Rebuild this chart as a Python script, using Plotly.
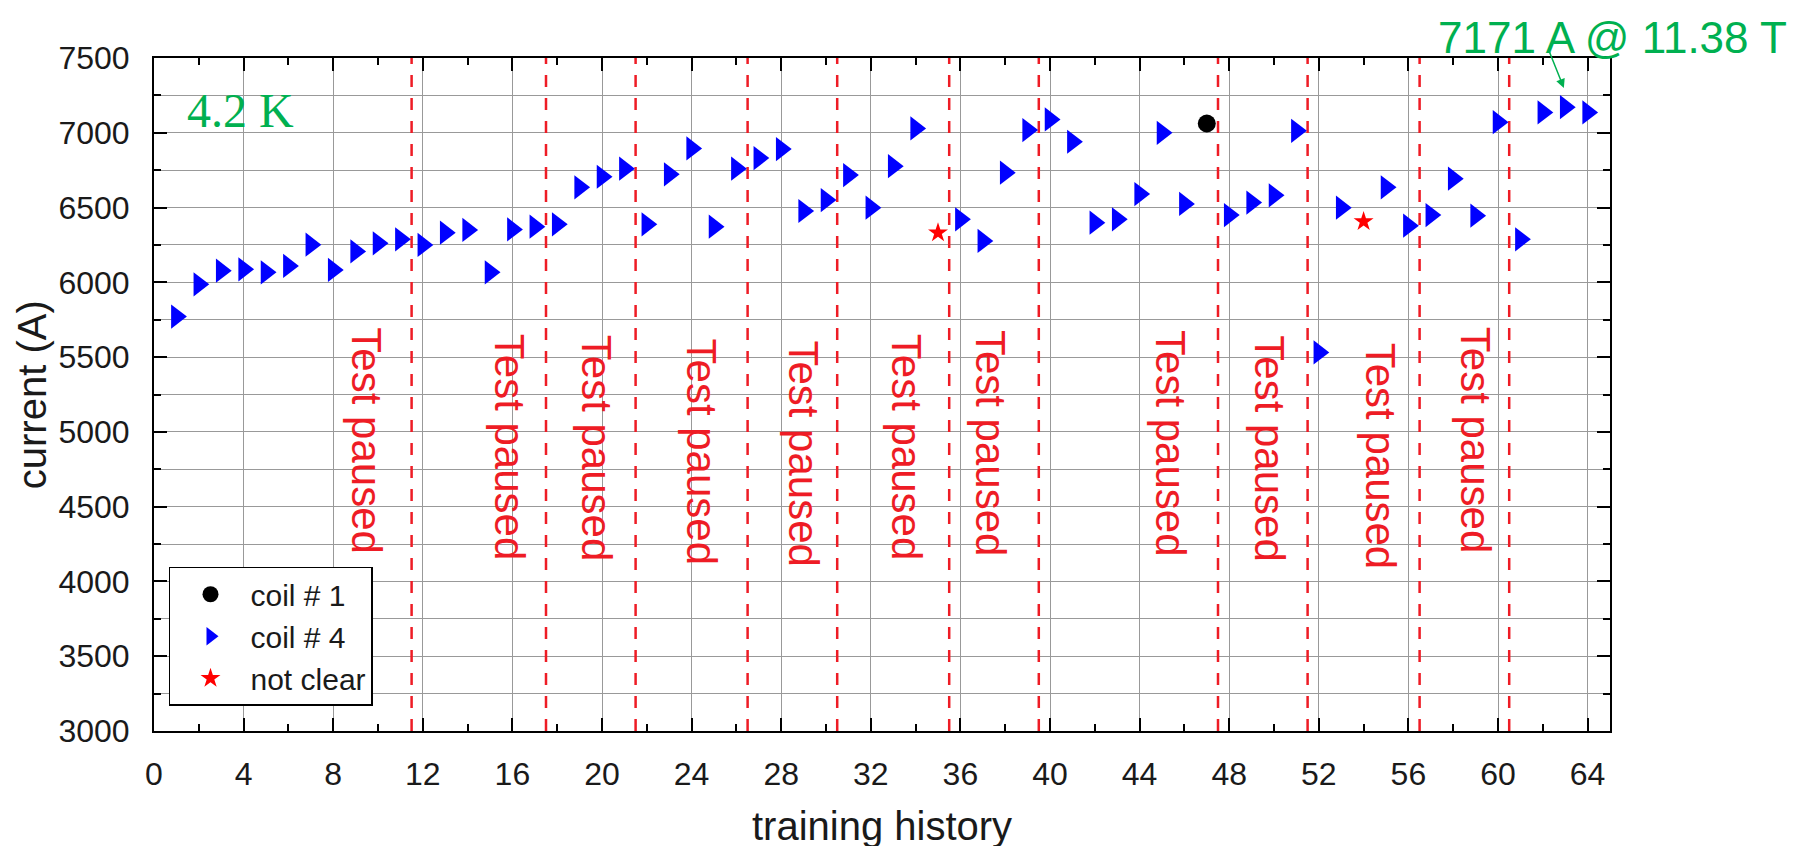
import plotly.graph_objects as go

# ---- data ----
coil4_x = [1, 2, 3, 4, 5, 6, 7, 8, 9, 10, 11, 12, 13, 14, 15, 16, 17, 18, 19, 20,
           21, 22, 23, 24, 25, 26, 27, 28, 29, 30, 31, 32, 33, 34, 36, 37, 38, 39, 40,
           41, 42, 43, 44, 45, 46, 48, 49, 50, 51, 52, 53, 55, 56, 57, 58, 59, 60,
           61, 62, 63, 64]
coil4_y = [5771, 5987, 6078, 6087, 6067, 6110, 6252, 6083, 6207, 6261, 6288, 6250,
           6332, 6350, 6067, 6354, 6372, 6388, 6635, 6706, 6760, 6388, 6722, 6895,
           6372, 6760, 6831, 6891, 6477, 6550, 6717, 6499, 6777, 7029, 6421, 6277,
           6733, 7018, 7089, 6940, 6399, 6421, 6590, 7000, 6524, 6450, 6533, 6582,
           7013, 5531, 6499, 6635, 6379, 6450, 6693, 6446, 7071, 6288, 7136, 7171,
           7136]
coil1_x = [47]
coil1_y = [7062]
unclear_x = [35, 54]
unclear_y = [6332, 6406]

pause_x = [11.5, 17.5, 21.5, 26.5, 30.5, 35.5, 39.5, 47.5, 51.5, 56.5, 60.5]
pause_label_x = [9.5, 15.85, 19.75, 24.45, 29.0, 33.6, 37.35, 45.4, 49.8, 54.75, 59.0]
pause_label_y = [4938, 4900, 4891, 4864, 4852, 4896, 4922, 4919, 4887, 4838, 4943]
pause_text = "Test paused"

x_ticks = list(range(0, 65, 4))
y_ticks = list(range(3000, 7501, 500))

peak_x, peak_y = 63, 7171
peak_label = "7171 A @ 11.38 T"
temp_label = "4.2 K"

# ---- styling ----
FONT = "Liberation Sans, Arial, sans-serif"
RED = "#ee1c25"
GREEN = "#00b050"
GRID = "#999999"

fig = go.Figure()
fig.add_trace(go.Scatter(x=coil1_x, y=coil1_y, mode="markers", name="coil # 1",
                         marker=dict(symbol="circle", size=18, color="black")))
fig.add_trace(go.Scatter(x=coil4_x, y=coil4_y, mode="markers", name="coil # 4",
                         marker=dict(symbol="triangle-right", size=21, color="#0000ff")))
fig.add_trace(go.Scatter(x=unclear_x, y=unclear_y, mode="markers", name="not clear",
                         marker=dict(symbol="star", size=15, color="#ff0000")))

shapes = []
for px in pause_x:
    shapes.append(dict(type="line", xref="x", yref="y", x0=px, x1=px, y0=3000, y1=7500,
                       line=dict(color=RED, width=2.5, dash="12px,11px"), layer="between"))

annotations = []
for lx, ly in zip(pause_label_x, pause_label_y):
    annotations.append(dict(x=lx, y=ly, xref="x", yref="y", text=pause_text,
                            textangle=90, showarrow=False,
                            font=dict(family=FONT, size=42, color=RED),
                            xanchor="center", yanchor="middle"))

annotations.append(dict(x=3.85, y=7150, xref="x", yref="y", text=temp_label,
                        showarrow=False, xanchor="center", yanchor="middle",
                        font=dict(family="Liberation Serif, Times New Roman, serif",
                                  size=48, color=GREEN)))
annotations.append(dict(x=1.002, y=1.031, xref="paper", yref="paper", text=peak_label,
                        showarrow=False, xanchor="center", yanchor="middle",
                        font=dict(family=FONT, size=44, color=GREEN)))
annotations.append(dict(x=peak_x - 0.06, y=7300, xref="x", yref="y", text="",
                        showarrow=True, ax=-16, ay=-40, axref="pixel", ayref="pixel",
                        arrowhead=2, arrowsize=1.2, arrowwidth=1.5, arrowcolor=GREEN,
                        standoff=0, startstandoff=0))
annotations.append(dict(x=0.5, y=-0.141, xref="paper", yref="paper", text="training history",
                        showarrow=False, xanchor="center", yanchor="middle",
                        font=dict(family=FONT, size=40, color="#1a1a1a")))
annotations.append(dict(x=-0.084, y=0.5, xref="paper", yref="paper", text="current (A)",
                        showarrow=False, xanchor="center", yanchor="middle", textangle=-90,
                        font=dict(family=FONT, size=40, color="#1a1a1a")))

axis_common = dict(showline=True, linecolor="black", linewidth=2, mirror="ticks",
                   ticks="inside", ticklen=13, tickwidth=2, tickcolor="black",
                   showgrid=True, gridcolor=GRID, gridwidth=1, zeroline=False,
                   tickfont=dict(family=FONT, size=32, color="#1a1a1a"))

fig.update_xaxes(range=[0, 65], tickvals=x_ticks, ticklabelstandoff=14,
                 minor=dict(dtick=2, tick0=0, ticks="inside", ticklen=7, tickwidth=2,
                            tickcolor="black", showgrid=False),
                 **axis_common)
fig.update_yaxes(range=[3000, 7500], tickvals=y_ticks, ticklabelstandoff=16,
                 minor=dict(dtick=250, tick0=3000, ticks="inside", ticklen=7, tickwidth=2,
                            tickcolor="black", showgrid=True, gridcolor=GRID, gridwidth=1),
                 **axis_common)

# page has an 8px body margin, so the plot area is shifted by -8px here
fig.update_layout(
    width=1816, height=846,
    margin=dict(l=146, r=214, t=50, b=123, autoexpand=False),
    paper_bgcolor="white", plot_bgcolor="white",
    shapes=shapes, annotations=annotations,
    showlegend=True,
    legend=dict(x=0.0103, y=0.2441, xanchor="left", yanchor="top",
                bgcolor="white", bordercolor="black", borderwidth=1.5,
                font=dict(family=FONT, size=30, color="#1a1a1a"),
                itemwidth=70, traceorder="normal"),
)

fig.write_html("out.html")
